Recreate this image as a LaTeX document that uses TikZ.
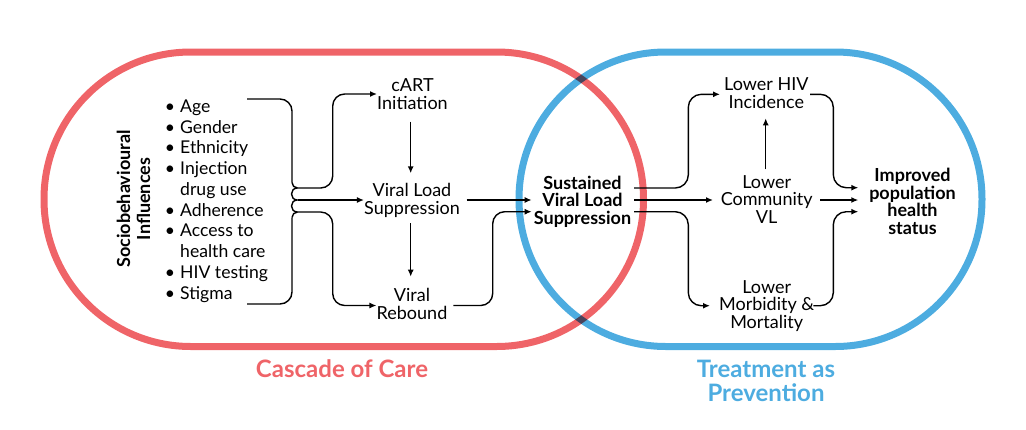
\documentclass[tikz,border=0pt]{standalone}
\usepackage{fontspec}
\setmainfont{Lato}
\usetikzlibrary{arrows.meta,calc}
\definecolor{cocred}{HTML}{EF6468}
\definecolor{tapblue}{HTML}{4DACE0}
\tikzset{
  conn/.style={line width=1.4pt, black},
  arr/.style={conn, -{Latex[length=7pt,width=6pt]}},
  txt/.style={font=\fontsize{18}{17.5}\selectfont, align=center, inner sep=0pt, anchor=base},
  btxt/.style={txt, font=\fontsize{18}{17.5}\selectfont\bfseries},
  ring/.style={line width=7pt, rounded corners=146.9pt},
}
\begin{document}
\begin{tikzpicture}[x=1pt,y=-1pt]
\useasboundingbox (0,0) rectangle (1026,429);
\begin{scope}[blend group=multiply]
\draw[ring, cocred] (44,52) rectangle (643.5,346.5);
\draw[ring, tapblue] (519,52) rectangle (982,346.5);
\end{scope}

% labels of the two rings (anchor base = last line)
\node[font=\fontsize{24}{24}\selectfont\bfseries, text=cocred, anchor=base, inner sep=0pt] (coc) at (342,377) {Cascade of Care};
\node[font=\fontsize{24}{24}\selectfont\bfseries, text=tapblue, align=center, anchor=base, inner sep=0pt] (tap) at (766,401) {Treatment as\\Prevention};

% left block
\node[btxt, font=\fontsize{18}{20}\selectfont\bfseries, rotate=90, anchor=center] (sbi) at (133.5,199) {Sociobehavioural\\Influences};
\node[txt, font=\fontsize{17.6}{20.75}\selectfont, align=left, anchor=base west] (list) at (180,299)
{\llap{•\hspace{5pt}}Age\\\llap{•\hspace{5pt}}Gender\\\llap{•\hspace{5pt}}Ethnicity\\\llap{•\hspace{5pt}}Injection\\drug use\\\llap{•\hspace{5pt}}Adherence\\\llap{•\hspace{5pt}}Access to\\health care\\\llap{•\hspace{5pt}}HIV testing\\\llap{•\hspace{5pt}}Stigma};

% cascade nodes
\node[txt] (cart) at (412.5,109.3) {cART\\Initiation};
\node[txt] (vl) at (412,214) {Viral Load\\Suppression};
\node[txt] (reb) at (412,319) {Viral\\Rebound};
\node[btxt] (svls) at (582.5,224) {Sustained\\Viral Load\\Suppression};
% prevention nodes
\node[txt] (lhi) at (766.3,108.3) {Lower HIV\\Incidence};
\node[txt] (lcvl) at (766.7,223.3) {Lower\\Community\\VL};
\node[txt] (lmm) at (766.7,328.3) {Lower\\Morbidity \&\\Mortality};
\node[btxt] (iphs) at (912.5,234) {Improved\\population\\health\\status};

% brace gathering the influences
\coordinate (brT) at (247,99);
\coordinate (brB) at (247,304);
\draw[conn, rounded corners=12pt] (brT) -- (292,99) -- (292,182.5);
\draw[conn] (292,182.5) .. controls (292,185.5) and (294.5,188) .. (297.5,188);
\draw[conn] (297.5,188) .. controls (289.5,188) and (289.5,200) .. (297.5,200);
\draw[conn] (297.5,200) .. controls (289.5,200) and (289.5,212) .. (297.5,212);
\draw[conn] (297.5,212) .. controls (294.5,212) and (292,214.5) .. (292,217.5);
\draw[conn, rounded corners=12pt] (292,217.5) -- (292,304) -- (brB);

\draw[arr, rounded corners=12pt] (297.5,188) -- (332.7,188) -- (332.7,94) -- (cart.west |- 0,94);
\draw[arr] (297.5,200) -- (vl.west |- 0,200);
\draw[arr, rounded corners=12pt] (297.5,212) -- (332.7,212) -- (332.7,305.5) -- (reb.west |- 0,305.5);

% cascade arrows
\draw[arr] (410.7,121.7) -- (410.7,173.3);
\draw[arr] (410.7,223) -- (410.7,276.7);
\draw[arr] (466.7,200) -- (531.7,200);
\draw[arr, rounded corners=12pt] (453.3,305.5) -- (492.7,305.5) -- (492.7,211.7) -- (531.7,211.7);

% prevention arrows
\draw[arr, rounded corners=13pt] (634,188) -- (688.3,188) -- (688.3,94.3) -- (720,94.3);
\draw[arr] (634,200) -- (713,200);
\draw[arr, rounded corners=13pt] (634,211.7) -- (688.3,211.7) -- (688.3,305.7) -- (710,305.7);
\draw[arr] (765.7,169.3) -- (765.7,118.3);
\draw[arr, rounded corners=13pt] (810,94.3) -- (833.3,94.3) -- (833.3,187.7) -- (858.3,187.7);
\draw[arr] (820,200) -- (858.3,200);
\draw[arr, rounded corners=13pt] (813.3,305.7) -- (833.3,305.7) -- (833.3,211.7) -- (858.3,211.7);
\end{tikzpicture}
\end{document}
